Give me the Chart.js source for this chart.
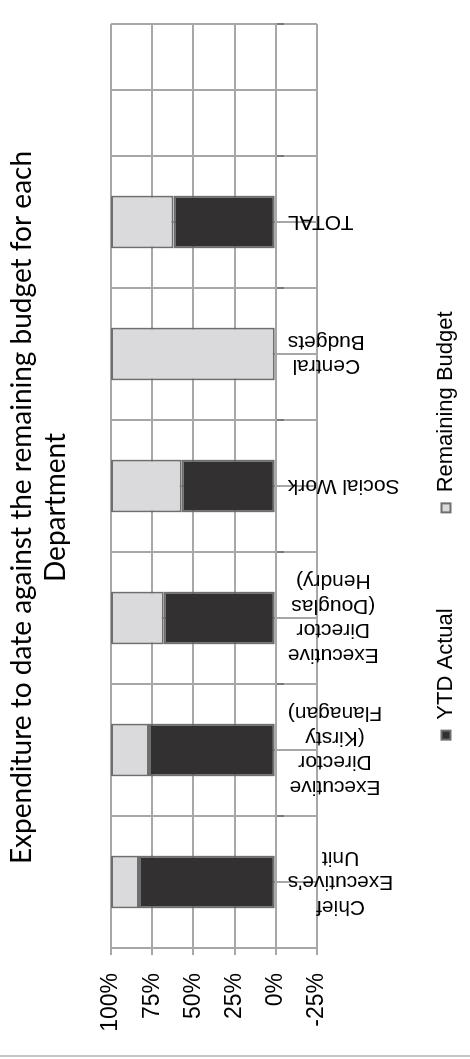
<!DOCTYPE html>
<html>
<head>
<meta charset="utf-8">
<title>Expenditure to date against the remaining budget</title>
<script src="https://cdn.jsdelivr.net/npm/chart.js@4.4.1/dist/chart.umd.min.js"></script>
<style>
  html, body { margin: 0; padding: 0; background: #ffffff; overflow: hidden; }
  body { width: 470px; height: 1059px; position: relative; }
  /* the chart is laid out as a 1059x470 column chart and turned a quarter turn */
  #turn {
    position: absolute; left: 0; top: 0;
    width: 1059px; height: 470px;
    transform-origin: 0 0;
    transform: translateY(1059px) rotate(-90deg);
  }
  #rule { position: absolute; left: 0; top: 1055px; width: 470px; height: 2px; background: #c6c6c6; }
</style>
</head>
<body>
<div id="turn"><canvas id="chart" width="1059" height="470"></canvas></div>
<div id="rule"></div>
<script>
// Departments (each entry is the wrapped label, one string per line)
const departments = [
  ["Chief", "Executive's", "Unit"],
  ["Executive", "Director", "(Kirsty", "Flanagan)"],
  ["Executive", "Director", "(Douglas", "Hendry)"],
  ["Social Work"],
  ["Central", "Budgets"],
  ["TOTAL"]
];

// Share of each department's budget, in percent
const ytdActual       = [83, 77, 68, 57, 0, 62];
const remainingBudget = [17, 23, 32, 43, 100, 38];

// Value axis
const valueMin = -25;
const valueMax = 100;
const valueStep = 25;

const seriesNames = ["YTD Actual", "Remaining Budget"];
const chartTitle = ["Expenditure to date against the remaining budget for each", "Department"];

const GRID = '#a7a7a9';
const TEXT = '#000000';
const SANS = '"Liberation Sans", Arial, Helvetica, sans-serif';

// Category names written beside the zero line, centred line by line
const categoryLabels = {
  id: 'categoryLabels',
  afterDraw(chart) {
    const xs = chart.scales.x;
    const ys = chart.scales.y;
    const ctx = chart.ctx;
    const start = ys.getPixelForValue(0) + 12;
    const lineGap = 24.5;
    ctx.save();
    ctx.font = '21px ' + SANS;
    ctx.fillStyle = TEXT;
    ctx.textAlign = 'center';
    ctx.textBaseline = 'middle';
    departments.forEach((lines, i) => {
      const span = Math.max(...lines.map(l => ctx.measureText(l).width));
      ctx.save();
      ctx.translate(xs.getPixelForValue(i), start + span / 2);
      ctx.rotate(-Math.PI / 2);
      lines.forEach((line, j) => {
        ctx.fillText(line, 0, (j - (lines.length - 1) / 2) * lineGap);
      });
      ctx.restore();
    });
    ctx.restore();
  }
};

// Title and legend are centred somewhat right of the canvas middle
const blockShift = {
  id: 'blockShift',
  afterLayout(chart) {
    const t = chart.titleBlock;
    if (t) { t.left += 24; t.right += 24; }
    const l = chart.legend;
    if (l) { l.left += 6; l.right += 6; }
  }
};

// one empty slot follows the last department
const slots = departments.concat([""]);

new Chart(document.getElementById('chart'), {
  type: 'bar',
  data: {
    labels: slots,
    datasets: [
      {
        label: seriesNames[0],
        data: ytdActual,
        backgroundColor: '#323031',
        borderColor: '#6e6e6e',
        borderWidth: 2,
        borderSkipped: false,
        barPercentage: 0.4,
        categoryPercentage: 1.0
      },
      {
        label: seriesNames[1],
        data: remainingBudget,
        backgroundColor: '#dadadc',
        borderColor: '#6e6e6e',
        borderWidth: 2,
        borderSkipped: false,
        barPercentage: 0.4,
        categoryPercentage: 1.0
      }
    ]
  },
  options: {
    responsive: false,
    animation: false,
    devicePixelRatio: 1,
    events: [],
    layout: { padding: { left: 20, right: 24, top: 0, bottom: 3 } },
    plugins: {
      tooltip: { enabled: false },
      title: {
        display: true,
        text: chartTitle,
        color: TEXT,
        font: { family: 'Lato, "Open Sans", sans-serif', size: 28, weight: 'normal', lineHeight: '34px' },
        padding: { top: 5, bottom: 38 }
      },
      legend: {
        display: true,
        position: 'bottom',
        labels: {
          boxWidth: 9,
          boxHeight: 9,
          padding: 96,
          color: TEXT,
          font: { family: SANS, size: 22 }
        }
      }
    },
    scales: {
      x: {
        type: 'category',
        stacked: true,
        offset: true,
        position: { y: 0 },
        grid: {
          offset: true,
          color: GRID,
          lineWidth: 2,
          drawTicks: true,
          tickLength: 7,
          tickColor: '#7a7a7a',
          tickWidth: 2
        },
        border: { display: true, color: GRID, width: 2 },
        ticks: { display: false }
      },
      x2: {
        type: 'category',
        axis: 'x',
        position: 'bottom',
        offset: true,
        grid: { offset: false, color: GRID, lineWidth: 2, drawTicks: false },
        border: { display: false },
        ticks: { display: false },
        afterFit(scale) { scale.height = 22; }
      },
      y: {
        type: 'linear',
        stacked: true,
        min: valueMin,
        max: valueMax,
        grid: { color: GRID, lineWidth: 2, tickLength: 7, tickWidth: 2 },
        border: { display: true, color: GRID, width: 2 },
        ticks: {
          stepSize: valueStep,
          padding: 18,
          color: TEXT,
          font: { family: SANS, size: 23 },
          callback: v => v + '%'
        },
        afterFit(scale) { scale.width = 91; }
      }
    }
  },
  plugins: [categoryLabels, blockShift]
});
</script>
</body>
</html>
